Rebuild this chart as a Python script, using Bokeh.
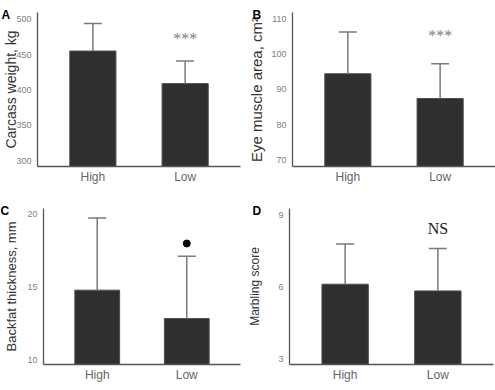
from bokeh.plotting import figure
from bokeh.layouts import column, row
from bokeh.models import FactorRange, Range1d, FixedTicker, ColumnDataSource
from bokeh.core.properties import value
from bokeh.embed import file_html
from bokeh.resources import INLINE

# Groups
groups = ["High", "Low"]

# Carcass traits: mean and standard deviation per group
carcass_weight = [455, 409]
carcass_weight_sd = [39, 32]

eye_muscle_area = [94.4, 87.4]
eye_muscle_area_sd = [11.8, 9.8]

backfat = [14.8, 12.85]
backfat_sd = [4.95, 4.27]

marbling = [6.11, 5.83]
marbling_sd = [1.68, 1.78]

# Axis ticks
ticks_a = [300, 350, 400, 450, 500]
ticks_b = [70, 80, 90, 100, 110]
ticks_c = [10, 15, 20]
ticks_d = [3, 6, 9]

SANS = "Liberation Sans"
SERIF = "Liberation Serif"
BAR = "#2f2f2f"
ERR = "#7a7a7a"
AXIS = "#555555"


def panel(letter, means, sds, ylabel, yrange, ticks, w, h, borders,
          label_size, label_standoff, letter_x, sig=None):
    left, right, top, bottom = borders
    p = figure(width=w, height=h, output_backend="svg", toolbar_location=None,
               x_range=FactorRange(*groups, range_padding=0.1,
                                   range_padding_units="absolute"),
               y_range=Range1d(*yrange),
               min_border_left=left, min_border_right=right,
               min_border_top=top, min_border_bottom=bottom)
    p.outline_line_color = None
    p.grid.visible = False
    p.background_fill_color = "white"
    p.border_fill_color = "white"

    # panel letter in the top-left corner, beside the top tick
    p.title.text = letter
    p.title.align = "left"
    p.title.offset = letter_x - left
    p.title.standoff = -18
    p.title.text_font = SANS
    p.title.text_font_style = "bold"
    p.title.text_font_size = "12px"
    p.title.text_color = "black"

    upper = [m + s for m, s in zip(means, sds)]
    src = ColumnDataSource(dict(g=groups, m=means, up=upper,
                                base=[yrange[0]] * len(groups)))
    p.vbar(x="g", top="m", bottom="base", width=0.5, source=src,
           fill_color=BAR, line_color="#4d4d4d", line_width=1)
    p.segment(x0="g", y0="m", x1="g", y1="up", source=src,
              line_color=ERR, line_width=1.5)
    p.scatter(x="g", y="up", marker="dash", size=18, source=src,
              line_color=ERR, line_width=1.5)

    # axes
    for ax in (p.xaxis[0], p.yaxis[0]):
        ax.axis_line_color = AXIS
        ax.axis_line_width = 1.3
        ax.major_tick_line_color = None
        ax.minor_tick_line_color = None
        ax.major_tick_out = 0
        ax.major_tick_in = 0
    p.xaxis.major_label_text_font = SANS
    p.xaxis.major_label_text_font_size = "12px"
    p.xaxis.major_label_text_color = "#666666"
    p.xaxis.major_label_standoff = 3

    p.yaxis.ticker = FixedTicker(ticks=ticks)
    p.yaxis.major_label_text_font = SANS
    p.yaxis.major_label_text_font_size = "9px"
    p.yaxis.major_label_text_color = "#808080"
    p.yaxis.major_label_standoff = 6
    p.yaxis.axis_label = ylabel
    p.yaxis.axis_label_text_font = SANS
    p.yaxis.axis_label_text_font_style = "normal"
    p.yaxis.axis_label_text_font_size = label_size
    p.yaxis.axis_label_text_color = "#333333"
    p.yaxis.axis_label_standoff = label_standoff

    if sig is not None:
        kind, yv = sig
        if kind == "dot":
            p.scatter(x=[groups[1]], y=[yv], size=7, fill_color="black",
                      line_color="black")
        elif kind == "***":
            p.text(x=[groups[1]], y=[yv], text=["***"], text_font=value(SERIF),
                   text_font_size="16px", text_color="#808080",
                   text_align="center", text_baseline="middle")
        else:
            p.text(x=[groups[1]], y=[yv], text=[kind], text_font=value(SERIF),
                   text_font_size="16px", text_color="#222222",
                   text_align="center", text_baseline="middle")
    return p


pa = panel("A", carcass_weight, carcass_weight_sd, "Carcass weight, kg",
           (292, 509.4), ticks_a, 245, 195, (36, 5, 11, 29), "14px", -6, 0,
           sig=("***", 472))
pb = panel("B", eye_muscle_area, eye_muscle_area_sd, "Eye muscle area, cm²",
           (68.2, 111.7), ticks_b, 250, 195, (47, 0, 12, 28), "15px", 3, 7,
           sig=("***", 105.2))
pc = panel("C", backfat, backfat_sd, "Backfat thickness, mm",
           (9.7, 20.4), ticks_c, 245, 195, (43, 5, 13, 26), "13px", 5, 0,
           sig=("dot", 18.0))
pd = panel("D", marbling, marbling_sd, "Marbling score",
           (2.75, 9.28), ticks_d, 250, 195, (44, 2, 13, 26), "12px", 13, 7,
           sig=("NS", 8.44))

layout = column(row(pa, pb), row(pc, pd))
open("out.html", "w").write(file_html(layout, INLINE))
